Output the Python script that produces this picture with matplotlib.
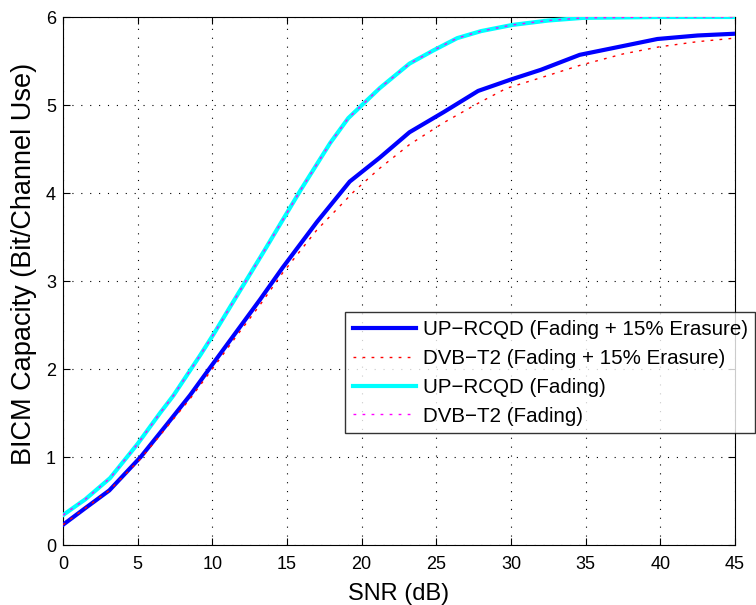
import matplotlib
matplotlib.use("Agg")
import matplotlib.pyplot as plt

plt.rcParams['font.family'] = ['Liberation Sans', 'DejaVu Sans']

snr_blue = [0, 1.5, 3.1, 5.2, 7.0, 8.5, 10.0, 11.6, 13.2, 14.7, 17.0, 19.2, 21.2, 23.2, 25.5, 27.8, 30.0, 32.0, 34.6, 37.5, 39.8, 42.5, 45]
cap_blue = [0.23, 0.42, 0.62, 1.0, 1.38, 1.7, 2.05, 2.42, 2.79, 3.15, 3.67, 4.13, 4.40, 4.69, 4.92, 5.16, 5.29, 5.40, 5.57, 5.67, 5.75, 5.79, 5.81]

snr_red = [0, 1.5, 3.1, 5.2, 7.0, 8.5, 10.0, 11.6, 13.2, 14.7, 17.0, 19.5, 21.2, 23.2, 25.5, 27.8, 29.7, 32.0, 34.6, 37.5, 39.9, 42.5, 45]
cap_red = [0.23, 0.42, 0.62, 0.98, 1.35, 1.66, 2.0, 2.37, 2.73, 3.09, 3.58, 4.02, 4.28, 4.55, 4.80, 5.02, 5.19, 5.31, 5.45, 5.58, 5.66, 5.72, 5.76]

snr_cyan = [0, 1.5, 3.15, 5.0, 6.5, 7.4, 9.2, 10.1, 11.6, 13.5, 15.9, 17.9, 19.1, 21.2, 23.2, 24.8, 26.4, 28.0, 30.1, 32.5, 34.8, 40.0, 45]
cap_cyan = [0.34, 0.52, 0.76, 1.15, 1.5, 1.7, 2.16, 2.4, 2.82, 3.35, 4.03, 4.57, 4.85, 5.19, 5.47, 5.62, 5.76, 5.84, 5.91, 5.96, 5.99, 6.0, 6.0]

labels = ['UP\u2212RCQD (Fading + 15% Erasure)', 'DVB\u2212T2 (Fading + 15% Erasure)',
          'UP\u2212RCQD (Fading)', 'DVB\u2212T2 (Fading)']

fig = plt.figure(figsize=(7.56, 6.05), dpi=100)
ax = fig.add_axes([63/756, 60/605, 672/756, 528/605])

dots = (0, (2, 4.5))
ax.plot(snr_blue, cap_blue, color='#0000ff', lw=3.0, label=labels[0], zorder=3)
ax.plot(snr_red, cap_red, color='#ff0000', lw=1.0, ls=dots, label=labels[1], zorder=4)
ax.plot(snr_cyan, cap_cyan, color='#00ffff', lw=3.0, label=labels[2], zorder=3)
ax.plot(snr_cyan, cap_cyan, color='#ff00ff', lw=1.0, ls=dots, label=labels[3], zorder=4)

ax.set_xlim(0, 45)
ax.set_ylim(0, 6)
ax.set_xticks(range(0, 46, 5))
ax.set_yticks(range(0, 7))
ax.grid(True, color='black', ls=(0, (1, 7)), lw=0.8)
ax.tick_params(direction='in', top=True, right=True, labelsize=13, length=5, width=0.8)
ax.tick_params(axis='x', pad=8)
ax.tick_params(axis='y', pad=5)
for s in ax.spines.values():
    s.set_linewidth(0.8)
ax.set_xlabel('SNR (dB)', fontsize=17, labelpad=7)
ax.set_ylabel('BICM Capacity (Bit/Channel Use)', fontsize=19.5)
ax.yaxis.set_label_coords(-0.039, 0.532)

leg = ax.legend(loc='upper left', bbox_to_anchor=(0.4196, 0.441), borderaxespad=0,
                fontsize=14.8, frameon=True, fancybox=False, edgecolor='black',
                handlelength=3.06, handletextpad=0.34, borderpad=0.38, labelspacing=0.48)
leg.get_frame().set_linewidth(1.0)
leg.set_zorder(10)

fig.savefig('out.png', dpi=100)
